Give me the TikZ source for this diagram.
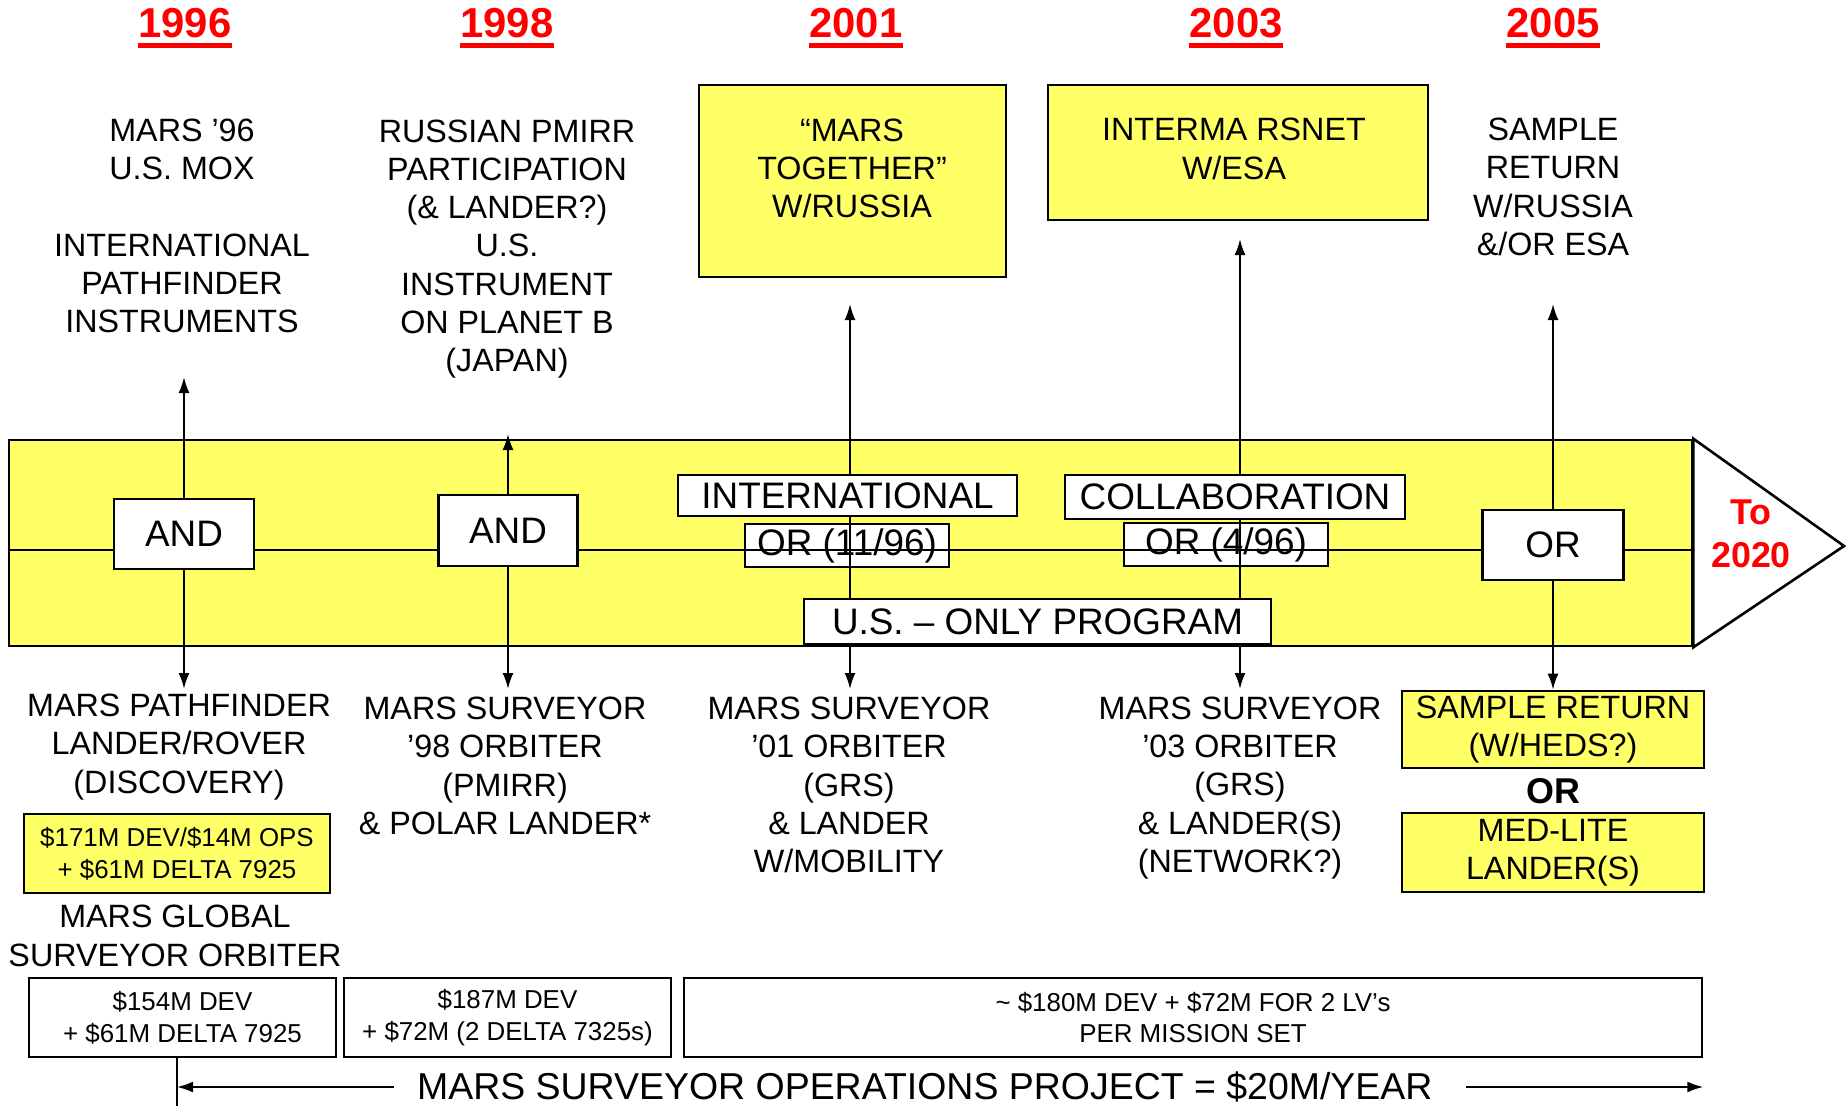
\documentclass[tikz,border=0pt]{standalone}
\usepackage{fontspec}
\setmainfont{Liberation Sans}
\usepackage{xcolor}
\usepackage{tikz}
\usetikzlibrary{arrows.meta,positioning,calc}

\definecolor{bandYellow}{RGB}{255,255,102}
\definecolor{yearRed}{RGB}{255,0,0}

\newcommand{\yearmark}[1]{%
    \setbox0\hbox{#1}%
    \vtop{\copy0\kern2.5bp\hrule height 2.5bp width \wd0}}

\begin{document}
\begin{tikzpicture}[
    x=50bp,
    y=50bp,
    font=\fontsize{16.2}{19.2}\selectfont,
    >={Latex[length=8bp,width=5.5bp]},
    line width=1bp,
    yearLabel/.style={
        font=\fontsize{21}{24}\selectfont\bfseries,
        text=yearRed,
        inner sep=0pt
    },
    note/.style={
        align=center,
        inner sep=0pt
    },
    yellowBox/.style={
        draw,
        line width=1.3bp,
        fill=bandYellow,
        align=center,
        inner sep=0pt
    },
    bandBox/.style={
        draw,
        line width=1.3bp,
        fill=white,
        font=\fontsize{18.5}{21}\selectfont,
        inner sep=0pt
    },
    costBox/.style={
        draw,
        line width=1.3bp,
        align=center,
        font=\fontsize{13}{16}\selectfont,
        inner sep=0pt,
        minimum height=39.5bp
    }
]

\useasboundingbox (0,0) rectangle (18.48,-11.06);

% Years
\node[yearLabel] (yearA) at (1.85,-0.285) {\yearmark{1996}};
\node[yearLabel] (yearB) at (5.07,-0.285) {\yearmark{1998}};
\node[yearLabel] (yearC) at (8.56,-0.285) {\yearmark{2001}};
\node[yearLabel] (yearD) at (12.36,-0.285) {\yearmark{2003}};
\node[yearLabel] (yearE) at (15.53,-0.285) {\yearmark{2005}};

% Top row
\node[note] (topOne) at (1.82,-2.26) {
    MARS ’96\\U.S. MOX\\[19.2bp]
    INTERNATIONAL\\PATHFINDER\\INSTRUMENTS
};

\node[note] (topTwo) at (5.07,-2.49) {
    RUSSIAN PMIRR\\PARTICIPATION\\(\& LANDER?)\\U.S.\\
    INSTRUMENT\\ON PLANET B\\(JAPAN)
};

\node[yellowBox, minimum width=153.5bp, minimum height=96bp] (togetherBox) at (8.525,-1.81) {};
\node[note] (togetherText) at (8.52,-1.685) {
    “MARS\\TOGETHER”\\W/RUSSIA
};

\node[yellowBox, minimum width=190bp, minimum height=67.5bp] (rsnetBox) at (12.38,-1.525) {};
\node[note] (rsnetText) at (12.34,-1.49) {
    INTERMA RSNET\\W/ESA
};

\node[note] (topFive) at (15.53,-1.87) {
    SAMPLE\\RETURN\\W/RUSSIA\\\&/OR ESA
};

% Timeline band
\node[draw, line width=1.3bp, fill=bandYellow, minimum width=841.5bp,
      minimum height=103bp, inner sep=0pt] (band) at (8.505,-5.43) {};

\coordinate (bandTip) at (18.44,-5.46);

\draw[line width=1.3bp, fill=white]
    (band.north east)
    --
    (bandTip)
    --
    (band.south east)
    --
    cycle;

\node[note, font=\fontsize{18}{21.8}\selectfont\bfseries, text=yearRed] (toText) at (17.51,-5.34) {
    To\\2020
};

\node[bandBox, minimum width=102bp, minimum height=21.5bp] (orIntl) at (8.47,-5.455) {OR (11/96)};
\node[bandBox, minimum width=102bp, minimum height=21.5bp] (orCollab) at (12.26,-5.445) {OR (4/96)};

\coordinate (midWest) at (0.09,-5.50);
\coordinate (midEast) at (16.92,-5.50);

\draw (midWest) -- (midEast);

% Tips of the vertical arrows
\coordinate (upTipOne) at (1.84,-3.77);
\coordinate (upTipTwo) at (5.08,-4.34);
\coordinate (upTipThree) at (8.50,-3.04);
\coordinate (upTipFour) at (12.40,-2.39);
\coordinate (upTipFive) at (15.53,-3.04);

\coordinate (downTipOne) at (1.84,-6.89);
\coordinate (downTipTwo) at (5.08,-6.89);
\coordinate (downTipThree) at (8.50,-6.89);
\coordinate (downTipFour) at (12.40,-6.89);

\draw[<->] (downTipThree) -- (upTipThree);
\draw[<->] (downTipFour) -- (upTipFour);

\node[bandBox, minimum width=70bp, minimum height=35bp] (andOne) at (1.84,-5.34) {AND};
\node[bandBox, minimum width=69.5bp, minimum height=35.5bp] (andTwo) at (5.08,-5.305) {AND};
\node[bandBox, minimum width=169.5bp, minimum height=20.5bp] (intlBox) at (8.475,-4.955) {INTERNATIONAL};
\node[bandBox, minimum width=170bp, minimum height=22bp] (collabBox) at (12.35,-4.97) {COLLABORATION};
\node[bandBox, minimum width=233.5bp, minimum height=22.5bp] (usOnly) at (10.375,-6.215) {U.S. – ONLY PROGRAM};
\node[bandBox, minimum width=70.5bp, minimum height=35bp] (orFive) at (15.53,-5.45) {OR};

% Bottom row
\node[note] (pathfinder) at (1.79,-7.47) {
    MARS PATHFINDER\\LANDER/ROVER\\(DISCOVERY)
};

\node[costBox, fill=bandYellow, minimum width=153bp] (pathfinderCost) at (1.77,-8.535) {
    \$171M DEV/\$14M OPS\\+ \$61M DELTA 7925
};

\node[note] (globalText) at (1.75,-9.36) {
    MARS GLOBAL\\SURVEYOR ORBITER
};

\node[note] (surveyorB) at (5.05,-7.66) {
    MARS SURVEYOR\\’98 ORBITER\\(PMIRR)\\\& POLAR LANDER*
};

\node[note] (surveyorC) at (8.49,-7.85) {
    MARS SURVEYOR\\’01 ORBITER\\(GRS)\\\& LANDER\\W/MOBILITY
};

\node[note] (surveyorD) at (12.40,-7.88) {
    MARS SURVEYOR\\’03 ORBITER\\(GRS)\\\& LANDER(S)\\(NETWORK?)
};

\node[yellowBox, minimum width=151bp, minimum height=38.5bp] (sampleBox) at (15.53,-7.295) {
    SAMPLE RETURN\\(W/HEDS?)
};

\node[note, font=\fontsize{18}{21}\selectfont\bfseries] (orText) at (15.53,-7.91) {OR};

\node[yellowBox, minimum width=151bp, minimum height=39.5bp] (medLiteBox) at (15.53,-8.525) {
    MED-LITE\\LANDER(S)
};

% Arrows from the band boxes
\draw[->] (andOne) -- (upTipOne);
\draw[->] (andOne) -- (downTipOne);
\draw[->] (andTwo) -- (upTipTwo);
\draw[->] (andTwo) -- (downTipTwo);
\draw[->] (orFive) -- (upTipFive);
\draw[->] (orFive.south) -- (sampleBox.north);

% Cost boxes
\node[costBox, minimum width=153.5bp] (costOne) at (1.825,-10.175) {
    \$154M DEV\\+ \$61M DELTA 7925
};
\node[costBox, minimum width=163.5bp] (costTwo) at (5.075,-10.175) {
    \$187M DEV\\+ \$72M (2 DELTA 7325s)
};
\node[costBox, minimum width=509bp] (costThree) at (11.93,-10.175) {
    \textasciitilde{} \$180M DEV + \$72M FOR 2 LV’s\\PER MISSION SET
};

% Operations span
\node[note, inner xsep=11bp, font=\fontsize{18.8}{21}\selectfont] (opsText) at (9.30,-10.87) {
    MARS SURVEYOR OPERATIONS PROJECT = \$20M/YEAR
};

\coordinate (opsTick) at (1.77,-11.06);

\draw (opsTick |- costOne.south) -- (opsTick);

\draw[->] (opsText.west) -- (opsTick |- opsText.west);
\draw[->] (opsText.east) -- (opsText.east -| costThree.east);

\end{tikzpicture}
\end{document}
